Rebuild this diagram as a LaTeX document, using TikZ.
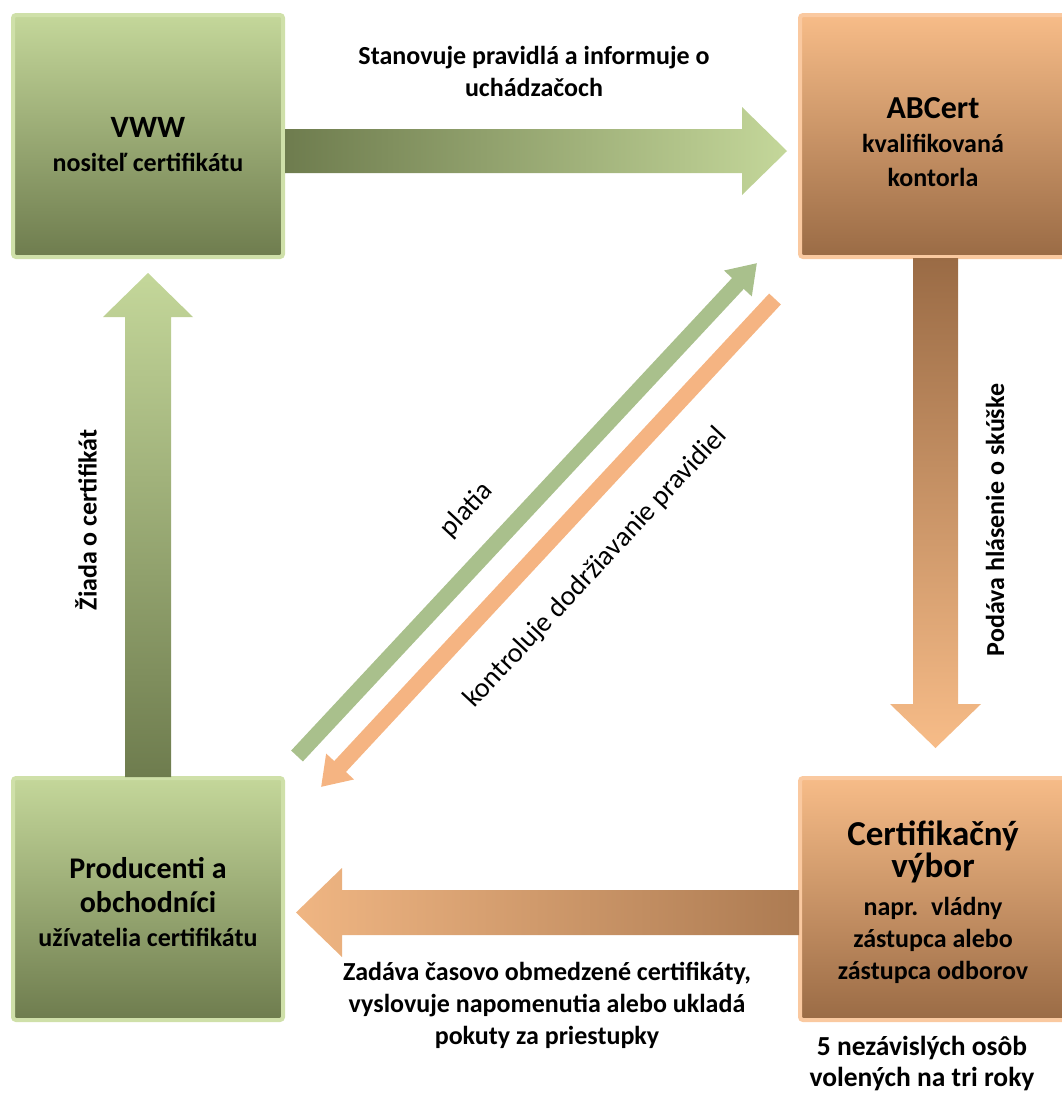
\documentclass[tikz,border=0pt]{standalone}
\usepackage{fontspec}
\setmainfont{Carlito}
\usetikzlibrary{calc,arrows.meta}
\definecolor{gdark}{HTML}{6E7C4E}
\definecolor{glight}{HTML}{C4D79A}
\definecolor{gedge}{HTML}{CFE0A9}
\definecolor{odark}{HTML}{9A6B45}
\definecolor{olight}{HTML}{F7BC88}
\definecolor{oedge}{HTML}{FAC9A0}
\definecolor{gdiag}{HTML}{A9C08C}
\definecolor{odiag}{HTML}{F5B482}
\begin{document}
\begin{tikzpicture}[x=1pt, y=-1pt]
\tikzstyle{every node}=[font=\bfseries\fontsize{26}{32}\selectfont, align=center, inner sep=0pt, outer sep=0pt];
\tikzstyle{gbox}=[draw=gedge, line width=4pt, rounded corners=3pt, top color=glight, bottom color=gdark, minimum width=270pt, minimum height=242pt, font=\bfseries\fontsize{26}{34}\selectfont];
\tikzstyle{obox}=[gbox, draw=oedge, top color=olight, bottom color=odark, minimum width=266pt];
\tikzstyle{diag}=[line width=16pt, -{Triangle[length=28pt, width=36pt]}];
\useasboundingbox (0,0) rectangle (1061,1093);
\node [gbox] (vww) at (148, 136) {{\fontsize{31}{36}\selectfont\rule{0pt}{37pt}VWW}\\ nositeľ certifikátu};
\node [obox] (abc) at (933, 136) {{\fontsize{32}{36}\selectfont\rule{0pt}{34pt}ABCert}\\ kvalifikovaná\\ kontorla};
\node [gbox] (prod) at (148, 899) {{\fontsize{30}{36}\selectfont\rule{0pt}{28pt}Producenti a}\\ {\fontsize{30}{36}\selectfont obchodníci}\\ užívatelia certifikátu};
\node [obox, font=\bfseries\fontsize{26}{32}\selectfont] (cv) at (933, 899) {{\fontsize{35}{38}\selectfont\rule{0pt}{31pt}Certifikačný}\\ {\fontsize{35}{38}\selectfont výbor}\\[6pt] napr.\enspace vládny\\ zástupca alebo\\ zástupca odborov};
% block arrows
\shade [left color=gdark, right color=glight]
  ($(vww.east)+(2,-7)$) -- ($(abc.west)+(-58,-7)$) -- ($(abc.west)+(-58,-29)$)
  -- ($(abc.west)+(-13,15)$) -- ($(abc.west)+(-58,59)$) -- ($(abc.west)+(-58,37)$)
  -- ($(vww.east)+(2,37)$) -- cycle;
\shade [top color=glight, bottom color=gdark]
  ($(prod.north)+(-23,-1)$) -- ($(vww.south)+(-23,60)$) -- ($(vww.south)+(-45,60)$)
  -- ($(vww.south)+(0,16)$) -- ($(vww.south)+(45,60)$) -- ($(vww.south)+(23,60)$)
  -- ($(prod.north)+(23,-1)$) -- cycle;
\shade [top color=odark, bottom color=olight]
  ($(abc.south)+(-20,1)$) -- ($(cv.north)+(-20,-74)$) -- ($(cv.north)+(-43,-74)$)
  -- ($(cv.north)+(2.5,-30)$) -- ($(cv.north)+(48,-74)$) -- ($(cv.north)+(25,-74)$)
  -- ($(abc.south)+(25,1)$) -- cycle;
\shade [left color=olight!92!odark, right color=odark!80!olight]
  ($(cv.west)+(-1,-9)$) -- ($(prod.east)+(59,-9)$) -- ($(prod.east)+(59,-31)$)
  -- ($(prod.east)+(13,13.5)$) -- ($(prod.east)+(59,58)$) -- ($(prod.east)+(59,36)$)
  -- ($(cv.west)+(-1,36)$) -- cycle;
% diagonal arrows
\coordinate (g0) at ($(prod.north east)+(14,-22)$);
\coordinate (g1) at ($(abc.south west)+(-43,6)$);
\coordinate (o0) at ($(abc.south west)+(-25,42)$);
\coordinate (o1) at ($(prod.north east)+(38,9)$);
\draw [diag, gdiag] (g0) -- (g1);
\draw [diag, odiag] (o0) -- (o1);
% labels
\node (lbltop) at (534, 71) {Stanovuje pravidlá a informuje o\\ uchádzačoch};
\node [rotate=90] (lblleft) at (86, 520) {Žiada o certifikát};
\node [rotate=90] (lblright) at (995, 520) {Podáva hlásenie o skúške};
\node [rotate=47, font=\fontsize{28}{32}\selectfont] (lblplatia) at (467, 510) {platia};
\node [rotate=47, font=\fontsize{28}{32}\selectfont] (lblkontr) at (596, 568) {kontroluje dodržiavanie pravidiel};
\node (lblbot) at (547, 1005) {Zadáva časovo obmedzené certifikáty,\\ vyslovuje napomenutia alebo ukladá\\ pokuty za priestupky};
\node [font=\bfseries\fontsize{27.5}{31}\selectfont] (lblnote) at (922, 1064) {5 nezávislých osôb\\ volených na tri roky};
\end{tikzpicture}
\end{document}
